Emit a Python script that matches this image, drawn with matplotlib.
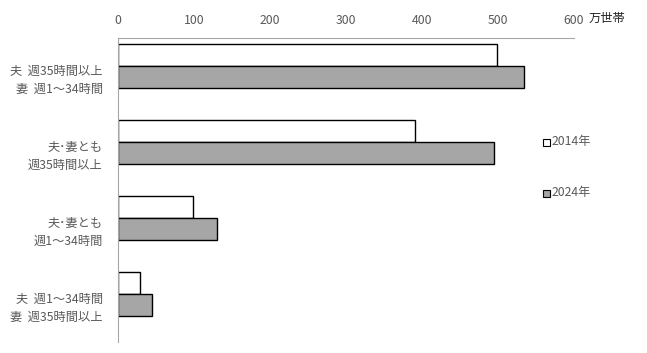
import matplotlib
matplotlib.use("Agg")
import matplotlib.pyplot as plt
import numpy as np
from matplotlib.patches import Rectangle

plt.rcParams['font.family'] = ['Noto Sans CJK JP', 'DejaVu Sans']

categories = ["夫  週35時間以上\n妻  週1～34時間",
              "夫･妻とも\n週35時間以上",
              "夫･妻とも\n週1～34時間",
              "夫  週1～34時間\n妻  週35時間以上"]
series_names = ["2014年", "2024年"]
values_2014 = [499, 391, 99, 29]
values_2024 = [534, 495, 130, 45]
xticks = [0, 100, 200, 300, 400, 500, 600]

fig = plt.figure(figsize=(6.47, 3.53), dpi=100)
ax = fig.add_axes([118/647, 1-342/353, 456/647, 304/353])

y = np.arange(len(categories))
h = 0.29
off = -0.13
ax.barh(y + off - h/2, values_2014, height=h, color='white', edgecolor='black', linewidth=1.0)
ax.barh(y + off + h/2, values_2024, height=h, color='#a6a6a6', edgecolor='black', linewidth=1.0)

fs = 8.8
ax.set_xlim(0, 600)
ax.set_ylim(len(categories) - 0.5, -0.5)
ax.set_xticks(xticks)
ax.xaxis.tick_top()
ax.tick_params(axis='x', length=0, pad=8, labelsize=fs, labelcolor='#595959')
ax.set_yticks(y)
ax.set_yticklabels(categories, fontsize=fs, color='#595959', linespacing=1.55)
ax.tick_params(axis='y', length=0, pad=11)
for lbl in ax.get_yticklabels():
    lbl.set_horizontalalignment('right')
for s in ['right', 'bottom']:
    ax.spines[s].set_visible(False)
ax.spines['top'].set_color('#a6a6a6')
ax.spines['left'].set_color('#a6a6a6')

fig.text(589/647, 1-18/353, "万世帯", fontsize=fs, color='#222222', va='center', ha='left')

# legend
for name, fc, yy in [(series_names[0], 'white', 142), (series_names[1], '#a6a6a6', 193)]:
    fig.patches.append(Rectangle((543/647, 1-(yy+3.5)/353), 7/647, 7/353, transform=fig.transFigure,
                                 facecolor=fc, edgecolor='black', linewidth=0.8))
    fig.text(552/647, 1-(yy-1)/353, name, fontsize=fs, color='#595959', va='center', ha='left')

fig.savefig("out.png", dpi=100)
